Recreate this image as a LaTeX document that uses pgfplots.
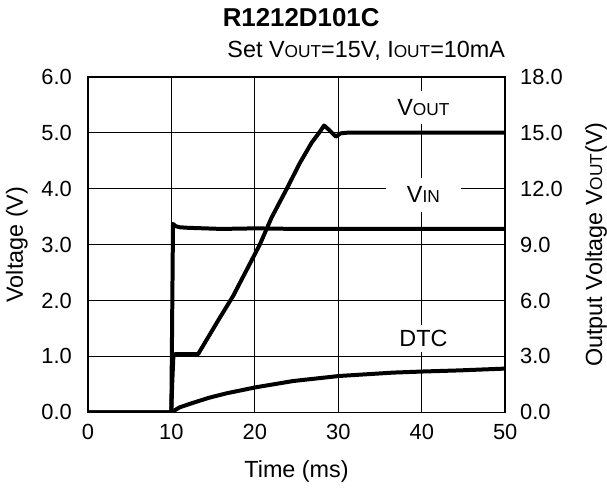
\documentclass[border=0pt]{standalone}
\usepackage{fontspec}
\setmainfont{Liberation Sans}
\usepackage{pgfplots}
\pgfplotsset{compat=1.18}
\newcommand\sm[1]{{\fontsize{17.4}{17.4}\selectfont #1}}
\newcommand\ticksize{\fontsize{22}{26}\selectfont}
\newcommand\labsize{\fontsize{23.5}{28}\selectfont}

\pgfplotsset{
	common/.style={
		scale only axis, width=418bp, height=336bp,
		xmin=0, xmax=50,
		major tick length=0,
		axis line style={line width=1.6bp},
		tick label style={font=\ticksize},
		label style={font=\labsize, inner sep=0pt},
		/pgf/number format/assume math mode=true,
		yticklabel={\pgfmathprintnumber[fixed,fixed zerofill,precision=1]{\tick}},
	},
	curve/.style={black, line width=4bp, line join=round},
}

\begin{document}
\ticksize
\begin{tikzpicture}
\begin{axis}[
	common,
	ymin=0, ymax=6,
	xtick={0,10,...,50}, ytick={0,1,...,6},
	grid=major, grid style={black, line width=1.2bp},
	yticklabel style={xshift=-8.5bp},
	xticklabel style={yshift=-4.5bp},
	xlabel={Time (ms)},
	xlabel style={at={(rel axis cs:0.5,-0.1756)}, anchor=center},
	ylabel={Voltage (V)},
	ylabel style={at={(rel axis cs:-0.170,0.5)}, anchor=center},
	]
	% VIN
	\addplot[curve] coordinates {
		(0,0) (10,0) (10.2,3.37) (10.5,3.33) (11,3.31) (12,3.30) (14,3.29)
		(16,3.28) (20,3.29) (25,3.28) (30,3.28) (40,3.28) (50,3.28)
	};
	% DTC
	\addplot[curve] coordinates {
		(10,0) (11,0.09) (12.6,0.17) (14.5,0.26) (16.6,0.34) (20.2,0.45)
		(24.6,0.56) (30.1,0.65) (36.5,0.71) (40.1,0.73) (44.5,0.75) (49.6,0.78) (50,0.78)
	};
	\node[fill=white, font=\labsize, inner xsep=8bp, inner ysep=8bp] at (axis cs:40.2,5.45) {V\sm{OUT}};
	\node[fill=white, font=\labsize, inner xsep=21bp, inner ysep=9bp] at (axis cs:40.2,3.89) {V\sm{IN}};
	\node[fill=white, font=\labsize, inner xsep=8bp, inner ysep=5bp] at (axis cs:40.2,1.32) {DTC};
	\coordinate (tt) at (rel axis cs:0.511,1.149);
	\coordinate (st) at (rel axis cs:1,1.0565);
	\coordinate (ll) at (rel axis cs:-0.2105,-0.232);
	\coordinate (ur) at (rel axis cs:1.2416,1.229);
\end{axis}
\begin{axis}[
	common,
	ymin=0, ymax=18,
	axis x line=none, axis y line*=right,
	ytick={0,3,...,18},
	yticklabel style={xshift=7.5bp},
	ylabel={Output Voltage V\sm{OUT}(V)},
	ylabel style={at={(rel axis cs:1.2177,0.5)}, anchor=center},
	]
	% VOUT
	\addplot[curve] coordinates {
		(0,0) (10,0) (10.1,1.5) (10.25,3.06) (10.4,3.12) (13.2,3.12) (15.8,5.07)
		(17.4,6.24) (20.6,9.0) (22.0,10.44) (23.8,11.97) (25.4,13.38) (26.8,14.46)
		(27.8,15.06) (28.3,15.39) (28.9,15.15) (29.7,14.79) (30.3,14.97) (31,15.0)
		(40,15.0) (50,15.0)
	};
\end{axis}
\node[font=\bfseries\fontsize{26}{30}\selectfont, anchor=base, inner sep=0pt] at (tt) {R1212D101C};
\node[font=\labsize, anchor=base east, inner sep=0pt] at (st) {Set V\sm{OUT}=15V, I\sm{OUT}=10mA};
\path (ll) rectangle (ur);
\end{tikzpicture}
\end{document}
